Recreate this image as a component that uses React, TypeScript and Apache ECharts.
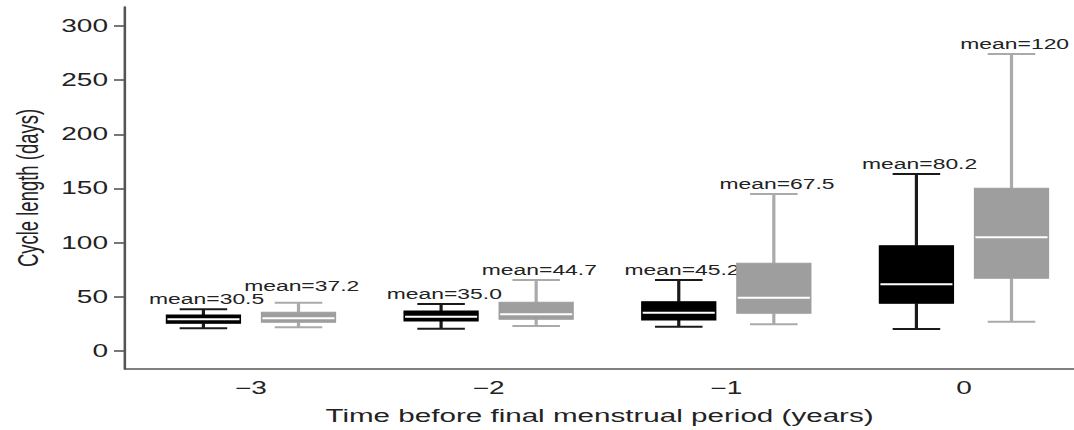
import React, { useEffect, useRef } from "react";
import * as echarts from "echarts";

// ---- data ----
const years = [-3, -2, -1, 0];
const yTicks = [0, 50, 100, 150, 200, 250, 300];

const blackLow = [21.0, 20.6, 22.4, 20.3];
const blackQ1 = [25.6, 27.7, 28.6, 44.0];
const blackMed = [29.3, 31.7, 35.4, 61.6];
const blackQ3 = [33.2, 36.9, 45.5, 97.2];
const blackHigh = [38.5, 43.4, 65.5, 163.4];
const blackMean = [30.5, 35.0, 45.2, 80.2];

const grayLow = [21.9, 23.1, 24.6, 27.0];
const grayQ1 = [26.5, 29.3, 34.8, 67.1];
const grayMed = [30.2, 33.9, 49.2, 105.0];
const grayQ3 = [35.7, 45.0, 81.0, 150.2];
const grayHigh = [44.6, 65.5, 144.9, 274.2];
const grayMean = [37.2, 44.7, 67.5, 120];

// ---- layout / style ----
const OUT_W = 1074;
const OUT_H = 430;
const INNER_W = 671;
const S = OUT_W / INNER_W; // horizontal stretch of the whole figure
const FONT = '"Liberation Sans", Arial, Helvetica, sans-serif';
const TEXT = "#222";
const AXIS = "#555";
const BOX_W = 0.31;
const CAP_W = 0.2;
const OFFSET = 0.2;
const LABEL_FS = 14.3;
const LABEL_GAP = 3;

const fmtMean = (v: number) => "mean=" + (v >= 100 ? v.toFixed(0) : v.toFixed(1));
const fmtYear = (v: number) => (v < 0 ? "\u2212" + Math.abs(v) : String(v));

function makeSeries(
  name: string,
  offset: number,
  low: number[],
  q1: number[],
  med: number[],
  q3: number[],
  high: number[],
  mean: number[],
  boxColor: string,
  whiskerColor: string,
  neighbourHigh: number[] | null
) {
  const data = years.map((yr, i) => [yr + offset, low[i], q1[i], med[i], q3[i], high[i], mean[i]]);
  return {
    type: "custom",
    name,
    data,
    encode: { x: 0, y: [1, 2, 3, 4, 5] },
    renderItem: (params: any, api: any) => {
      const x = api.value(0);
      const pLow = api.coord([x, api.value(1)]);
      const pQ1 = api.coord([x, api.value(2)]);
      const pMed = api.coord([x, api.value(3)]);
      const pQ3 = api.coord([x, api.value(4)]);
      const pHigh = api.coord([x, api.value(5)]);
      const boxW = api.size([BOX_W, 0])[0];
      const capW = api.size([CAP_W, 0])[0];
      const cx = pLow[0];
      const lw = 2;
      let labelBottom = pHigh[1] - LABEL_GAP;
      if (neighbourHigh) {
        // keep clear of the neighbouring (left) box's label
        const nb = api.coord([x, neighbourHigh[params.dataIndex]])[1] - LABEL_GAP;
        const nbTop = nb - LABEL_FS * 0.95;
        if (labelBottom > nbTop) labelBottom = nbTop;
      }
      return {
        type: "group",
        children: [
          {
            type: "line",
            shape: { x1: cx, y1: pQ3[1], x2: cx, y2: pHigh[1] },
            style: { stroke: whiskerColor, lineWidth: lw },
          },
          {
            type: "line",
            shape: { x1: cx, y1: pQ1[1], x2: cx, y2: pLow[1] },
            style: { stroke: whiskerColor, lineWidth: lw },
          },
          {
            type: "line",
            shape: { x1: cx - capW / 2, y1: pHigh[1], x2: cx + capW / 2, y2: pHigh[1] },
            style: { stroke: whiskerColor, lineWidth: lw },
          },
          {
            type: "line",
            shape: { x1: cx - capW / 2, y1: pLow[1], x2: cx + capW / 2, y2: pLow[1] },
            style: { stroke: whiskerColor, lineWidth: lw },
          },
          {
            type: "rect",
            shape: { x: cx - boxW / 2, y: pQ3[1], width: boxW, height: pQ1[1] - pQ3[1] },
            style: { fill: boxColor, stroke: boxColor, lineWidth: 1 },
          },
          {
            type: "line",
            shape: { x1: cx - boxW / 2 + 0.5, y1: pMed[1], x2: cx + boxW / 2 - 0.5, y2: pMed[1] },
            style: { stroke: "#ffffff", lineWidth: 2 },
          },
          {
            type: "text",
            x: cx + 2,
            y: labelBottom,
            style: {
              text: fmtMean(api.value(6)),
              fill: TEXT,
              fontSize: LABEL_FS,
              fontFamily: FONT,
              align: "center",
              verticalAlign: "bottom",
            },
          },
        ],
      };
    },
  };
}

export default function App() {
  const ref = useRef<HTMLDivElement>(null);

  useEffect(() => {
    if (!ref.current) return;
    const chart = echarts.init(ref.current, null, { renderer: "svg" });
    chart.setOption({
      animation: false,
      backgroundColor: "#ffffff",
      grid: {
        left: 125 / S,
        right: 0,
        top: 7,
        bottom: OUT_H - 369,
        containLabel: false,
        outerBoundsMode: "none",
      },
      xAxis: {
        type: "value",
        min: -3.53,
        max: 0.463,
        splitLine: { show: false },
        axisLine: { show: true, onZero: false, lineStyle: { color: AXIS, width: 1.6 } },
        axisTick: { show: false },
        axisLabel: {
          customValues: years,
          formatter: (v: number) => fmtYear(v),
          fontSize: 17.5,
          fontFamily: FONT,
          color: TEXT,
          margin: 10,
        },
        name: "Time before final menstrual period (years)",
        nameLocation: "middle",
        nameGap: 37,
        nameTextStyle: { fontSize: 18.5, fontFamily: FONT, color: TEXT },
      },
      yAxis: {
        type: "value",
        min: -16.6,
        max: 317.5,
        splitLine: { show: false },
        axisLine: { show: true, onZero: false, lineStyle: { color: AXIS, width: 1.6 } },
        axisTick: {
          show: true,
          customValues: yTicks,
          length: 11 / S,
          lineStyle: { color: AXIS, width: 1.6 },
        },
        axisLabel: {
          customValues: yTicks,
          fontSize: 17.5,
          fontFamily: FONT,
          color: TEXT,
          margin: (125 - 108) / S,
        },
        name: "Cycle length (days)",
        nameLocation: "middle",
        nameGap: 51,
        nameTextStyle: { fontSize: 18.5, fontFamily: FONT, color: TEXT },
      },
      series: [
        makeSeries("group 1", -OFFSET, blackLow, blackQ1, blackMed, blackQ3, blackHigh, blackMean, "#000000", "#1a1a1a", null),
        makeSeries("group 2", OFFSET, grayLow, grayQ1, grayMed, grayQ3, grayHigh, grayMean, "#9e9e9e", "#aaaaaa", blackHigh),
      ],
    });
    return () => chart.dispose();
  }, []);

  return (
    <div
      style={{
        position: "absolute",
        left: 0,
        top: 0,
        width: OUT_W,
        height: OUT_H,
        overflow: "hidden",
        background: "#fff",
      }}
    >
      <div
        ref={ref}
        style={{
          width: INNER_W,
          height: OUT_H,
          transform: `scaleX(${S})`,
          transformOrigin: "0 0",
        }}
      />
    </div>
  );
}
